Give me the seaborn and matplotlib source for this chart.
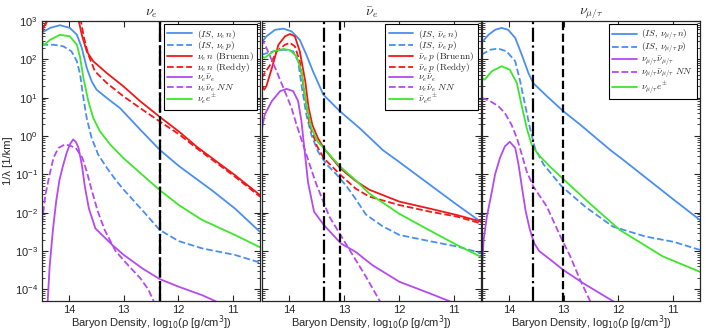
import numpy as np
import pandas as pd
import matplotlib.pyplot as plt
import seaborn as sns

# Data: x = log10(rho [g/cm^3]), y = log10(1/lambda [1/km])

# panel 1: nu_e
e_is_n_x = [14.51, 14.35, 14.17, 13.99, 13.86, 13.77, 13.68, 13.59, 13.50, 13.31, 13.07, 12.70, 12.34, 11.99, 11.36, 10.96, 10.5]
e_is_n_y = [2.69, 2.82, 2.89, 2.82, 2.64, 2.30, 1.78, 1.43, 1.21, 0.99, 0.73, 0.17, -0.36, -0.78, -1.44, -1.89, -2.50]
e_is_p_x = [14.51, 14.29, 14.11, 13.96, 13.86, 13.80, 13.75, 13.68, 13.59, 13.47, 13.31, 13.13, 13.0, 12.60, 12.34, 11.99, 11.56, 10.96, 10.5]
e_is_p_y = [2.38, 2.38, 2.34, 2.21, 1.95, 1.60, 1.08, 0.47, -0.05, -0.48, -0.83, -1.18, -1.40, -2.03, -2.45, -2.74, -2.93, -3.10, -3.30]
e_br_x = [14.52, 14.45, 14.38, 14.3, 13.90, 13.83, 13.77, 13.68, 13.56, 13.31, 13.01, 12.70, 12.34, 11.99, 11.66, 10.96, 10.5]
e_br_y = [2.70, 2.90, 3.1, 3.6, 3.6, 3.03, 2.64, 2.21, 1.95, 1.64, 1.30, 0.91, 0.50, 0.12, -0.28, -1.02, -1.54]
e_re_x = [14.52, 14.45, 14.38, 14.3, 13.85, 13.79, 13.73, 13.65, 13.53, 13.31, 13.01, 12.70, 12.34, 11.99, 11.66, 10.96, 10.5]
e_re_y = [2.65, 2.85, 3.1, 3.6, 3.6, 3.03, 2.56, 2.12, 1.69, 1.38, 1.04, 0.73, 0.38, 0.05, -0.32, -1.06, -1.58]
e_pair_x = [14.40, 14.36, 14.30, 14.24, 14.18, 14.12, 14.05, 13.99, 13.93, 13.88, 13.83, 13.77, 13.71, 13.64, 13.52, 13.21, 13.0, 12.66, 12.34, 11.99, 11.56, 11.25]
e_pair_y = [-4.4, -3.4, -2.45, -1.7, -1.15, -0.80, -0.45, -0.22, -0.09, -0.15, -0.31, -0.75, -1.35, -1.89, -2.41, -2.84, -3.10, -3.45, -3.73, -3.93, -4.15, -4.35]
e_nn_x = [14.52, 14.44, 14.36, 14.29, 14.20, 14.08, 13.99, 13.88, 13.76, 13.68, 13.60, 13.48, 13.35, 13.15, 12.90, 12.70, 12.55, 12.42]
e_nn_y = [-2.50, -1.55, -1.0, -0.57, -0.31, -0.22, -0.25, -0.31, -0.57, -0.92, -1.35, -1.95, -2.45, -3.0, -3.40, -3.70, -4.0, -4.40]
e_epm_x = [14.51, 14.46, 14.35, 14.17, 13.99, 13.86, 13.80, 13.74, 13.65, 13.56, 13.44, 13.25, 13.01, 12.70, 12.34, 11.99, 11.56, 10.96, 10.5]
e_epm_y = [2.47, 2.38, 2.51, 2.64, 2.60, 2.38, 2.04, 1.51, 0.91, 0.47, 0.13, -0.22, -0.57, -0.96, -1.41, -1.80, -2.19, -2.58, -2.90]

# panel 2: anti nu_e
a_is_n_x = [14.51, 14.42, 14.26, 14.11, 13.96, 13.81, 13.69, 13.57, 13.38, 13.08, 12.72, 12.29, 11.99, 10.98, 10.5]
a_is_n_y = [2.43, 2.60, 2.77, 2.80, 2.73, 2.51, 2.12, 1.69, 1.08, 0.65, 0.21, -0.37, -0.68, -1.75, -2.24]
a_is_p_x = [14.51, 14.29, 14.11, 13.93, 13.84, 13.78, 13.69, 13.60, 13.48, 13.32, 13.14, 12.96, 12.80, 12.60, 12.30, 11.99, 11.44, 10.94, 10.5]
a_is_p_y = [2.12, 2.21, 2.25, 2.21, 1.95, 1.34, 0.56, 0.04, -0.40, -0.74, -1.0, -1.30, -1.62, -2.05, -2.35, -2.58, -2.74, -2.88, -3.05]
a_br_x = [14.51, 14.46, 14.42, 14.32, 14.20, 14.08, 13.99, 13.90, 13.81, 13.71, 13.65, 13.58, 13.48, 13.37, 13.07, 12.79, 12.54, 11.99, 11.44, 10.94, 10.5]
a_br_y = [1.34, 1.21, 1.30, 1.77, 2.38, 2.60, 2.66, 2.60, 2.21, 1.43, 0.75, 0.29, -0.05, -0.32, -0.84, -1.17, -1.40, -1.71, -1.89, -2.06, -2.23]
a_re_x = [14.51, 14.35, 14.23, 14.08, 13.99, 13.90, 13.81, 13.72, 13.63, 13.50, 13.37, 13.07, 12.79, 12.54, 11.99, 11.44, 10.94, 10.5]
a_re_y = [1.51, 1.86, 2.21, 2.38, 2.43, 2.34, 1.95, 1.08, 0.30, -0.25, -0.58, -1.01, -1.37, -1.58, -1.80, -1.97, -2.10, -2.28]
a_pair_x = [14.51, 14.45, 14.32, 14.17, 14.05, 13.93, 13.84, 13.78, 13.72, 13.66, 13.55, 13.37, 13.06, 12.79, 12.48, 11.99, 11.44, 11.0]
a_pair_y = [0.12, 0.56, 0.91, 1.17, 1.23, 1.17, 0.91, 0.39, -0.40, -1.20, -1.97, -2.32, -2.80, -3.02, -3.37, -3.80, -4.10, -4.35]
a_nn_x = [14.51, 14.42, 14.26, 14.11, 13.96, 13.87, 13.75, 13.63, 13.51, 13.27, 12.90, 12.60, 12.33]
a_nn_y = [2.56, 2.30, 1.78, 1.26, 0.73, 0.30, -0.22, -0.74, -1.25, -2.10, -2.97, -3.67, -4.35]
a_epm_x = [14.51, 14.45, 14.29, 14.11, 13.99, 13.87, 13.78, 13.69, 13.60, 13.48, 13.37, 13.07, 12.79, 12.54, 11.99, 11.44, 10.94, 10.5]
a_epm_y = [2.08, 2.04, 2.21, 2.27, 2.24, 2.08, 1.69, 0.82, 0.21, -0.15, -0.32, -0.80, -1.15, -1.50, -2.03, -2.46, -2.84, -3.15]

# panel 3: nu_mu/tau
x_is_n_x = [14.51, 14.38, 14.26, 14.14, 14.02, 13.89, 13.77, 13.65, 13.56, 13.31, 13.01, 12.70, 12.15, 11.91, 11.0, 10.5]
x_is_n_y = [2.43, 2.64, 2.77, 2.82, 2.77, 2.56, 2.12, 1.65, 1.38, 1.04, 0.65, 0.30, -0.36, -0.62, -1.64, -2.19]
x_is_p_x = [14.51, 14.35, 14.20, 14.05, 13.89, 13.80, 13.71, 13.62, 13.53, 13.37, 13.22, 13.04, 12.6, 12.10, 11.5, 10.98, 10.5]
x_is_p_y = [2.12, 2.25, 2.28, 2.21, 1.95, 1.43, 0.82, 0.21, -0.31, -0.74, -1.0, -1.31, -1.85, -2.36, -2.62, -2.76, -2.97]
x_pair_x = [14.5, 14.47, 14.41, 14.30, 14.26, 14.17, 14.08, 13.99, 13.89, 13.83, 13.77, 13.70, 13.62, 13.54, 13.45, 13.24, 13.01, 12.64, 12.08]
x_pair_y = [-3.45, -2.7, -2.10, -1.31, -1.0, -0.57, -0.27, -0.15, -0.31, -0.74, -1.31, -1.95, -2.45, -2.80, -3.0, -3.23, -3.49, -3.84, -4.32]
x_nn_x = [14.51, 14.35, 14.20, 14.08, 13.96, 13.86, 13.77, 13.68, 13.56, 13.31, 13.06, 12.88, 12.70, 12.50]
x_nn_y = [1.0, 0.91, 0.78, 0.60, 0.30, -0.05, -0.48, -0.92, -1.31, -1.84, -2.62, -3.14, -3.75, -4.35]
x_epm_x = [14.51, 14.45, 14.32, 14.14, 13.99, 13.86, 13.77, 13.68, 13.59, 13.47, 13.25, 13.01, 12.52, 11.97, 11.18, 10.5]
x_epm_y = [1.51, 1.47, 1.69, 1.82, 1.73, 1.38, 0.78, 0.21, -0.22, -0.48, -0.80, -1.12, -1.76, -2.45, -3.14, -3.54]

# vertical markers (dash-dot, dashed) per panel
vline_dashdot = [12.34, 13.37, 13.56]
vline_dashed = [12.34, 13.07, 13.01]

x_ticks = [14, 13, 12, 11]
y_ticks = [1e-4, 1e-3, 1e-2, 1e-1, 1e0, 1e1, 1e2, 1e3]

titles = [r'$\nu_e$', r'$\bar{\nu}_e$', r'$\nu_{\mu/\tau}$']

BLUE = '#4a8ff0'
RED = '#f21818'
PURPLE = '#b44af0'
GREEN = '#3ee62a'

panels = [
    [(r'$(IS,\,\nu_e\, n)$', e_is_n_x, e_is_n_y, BLUE, '-'),
     (r'$(IS,\,\nu_e\, p)$', e_is_p_x, e_is_p_y, BLUE, '--'),
     (r'$\nu_e\, n\ (\mathrm{Bruenn})$', e_br_x, e_br_y, RED, '-'),
     (r'$\nu_e\, n\ (\mathrm{Reddy})$', e_re_x, e_re_y, RED, '--'),
     (r'$\nu_e\bar{\nu}_e$', e_pair_x, e_pair_y, PURPLE, '-'),
     (r'$\nu_e\bar{\nu}_e\ NN$', e_nn_x, e_nn_y, PURPLE, '--'),
     (r'$\nu_e e^{\pm}$', e_epm_x, e_epm_y, GREEN, '-')],
    [(r'$(IS,\,\bar{\nu}_e\, n)$', a_is_n_x, a_is_n_y, BLUE, '-'),
     (r'$(IS,\,\bar{\nu}_e\, p)$', a_is_p_x, a_is_p_y, BLUE, '--'),
     (r'$\bar{\nu}_e\, p\ (\mathrm{Bruenn})$', a_br_x, a_br_y, RED, '-'),
     (r'$\bar{\nu}_e\, p\ (\mathrm{Reddy})$', a_re_x, a_re_y, RED, '--'),
     (r'$\nu_e\bar{\nu}_e$', a_pair_x, a_pair_y, PURPLE, '-'),
     (r'$\nu_e\bar{\nu}_e\ NN$', a_nn_x, a_nn_y, PURPLE, '--'),
     (r'$\bar{\nu}_e e^{\pm}$', a_epm_x, a_epm_y, GREEN, '-')],
    [(r'$(IS,\,\nu_{\mu/\tau}\, n)$', x_is_n_x, x_is_n_y, BLUE, '-'),
     (r'$(IS,\,\nu_{\mu/\tau}\, p)$', x_is_p_x, x_is_p_y, BLUE, '--'),
     (r'$\nu_{\mu/\tau}\bar{\nu}_{\mu/\tau}$', x_pair_x, x_pair_y, PURPLE, '-'),
     (r'$\nu_{\mu/\tau}\bar{\nu}_{\mu/\tau}\ NN$', x_nn_x, x_nn_y, PURPLE, '--'),
     (r'$\nu_{\mu/\tau} e^{\pm}$', x_epm_x, x_epm_y, GREEN, '-')],
]

sns.set_style('ticks')
plt.rcParams['font.family'] = ['Liberation Sans', 'DejaVu Sans']
plt.rcParams['mathtext.fontset'] = 'dejavusans'

fig = plt.figure(figsize=(7.06, 3.32), dpi=100, facecolor='white')
positions = [[0.0595, 0.0934, 0.3088, 0.8434],
             [0.3711, 0.0934, 0.3102, 0.8434],
             [0.6827, 0.0934, 0.3088, 0.8434]]

for i, curves in enumerate(panels):
    ax = fig.add_axes(positions[i])
    for label, xs, ys, col, ls in curves:
        df = pd.DataFrame({'rho': xs, 'rate': 10 ** np.array(ys)})
        sns.lineplot(data=df, x='rho', y='rate', ax=ax, color=col, linestyle=ls,
                     lw=1.3, label=label, sort=False, estimator=None,
                     solid_joinstyle='round', dash_joinstyle='round')
    ax.axvline(vline_dashdot[i], color='k', ls='-.', lw=1.6)
    ax.axvline(vline_dashed[i], color='k', ls='--', lw=1.6)

    ax.set_yscale('log')
    ax.set_xlim(14.5, 10.5)
    ax.set_ylim(5e-5, 1e3)
    ax.set_xticks(x_ticks)
    ax.set_yticks(y_ticks)
    ax.tick_params(which='both', direction='in', top=True, right=True, labelsize=8)
    ax.tick_params(which='major', length=4, pad=3)
    ax.tick_params(which='minor', length=2)
    if i > 0:
        ax.tick_params(labelleft=False)
        ax.set_ylabel('')
    else:
        ax.set_ylabel('1/λ [1/km]', fontsize=8, labelpad=1)
    ax.set_xlabel('Baryon Density, log$_{10}$(ρ [g/cm$^3$])', fontsize=8, labelpad=-1)
    ax.set_title(titles[i], fontsize=10, pad=4, math_fontfamily='cm')
    for sp in ax.spines.values():
        sp.set_linewidth(0.9)
    leg = ax.legend(loc='upper right', prop={'size': 6.8, 'math_fontfamily': 'cm'},
                    fancybox=False, framealpha=1, edgecolor='k', handlelength=2.6,
                    labelspacing=-0.18, borderaxespad=0.35, borderpad=0.35, handletextpad=0.5)
    leg.get_frame().set_linewidth(0.8)

fig.savefig('out.png', dpi=100)
